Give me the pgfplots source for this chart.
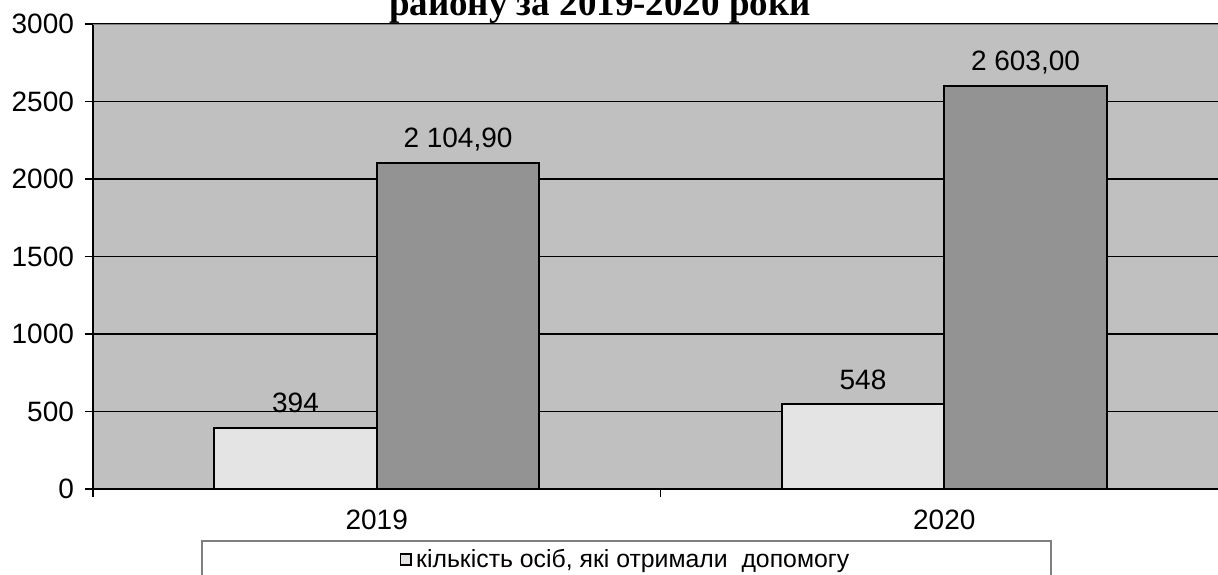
\documentclass[border=0pt]{standalone}
\usepackage{fontspec}
\setmainfont{Liberation Sans}
\newfontfamily\titlefont{Liberation Serif}
\usepackage{pgfplots}
\pgfplotsset{compat=1.18}

\definecolor{plotbg}{HTML}{C0C0C0}
\definecolor{lightbar}{HTML}{E4E4E4}
\definecolor{darkbar}{HTML}{939393}
\definecolor{framegray}{HTML}{7F7F7F}

% bars sit at category centre -/+ half a bar width (0.5 and 1.5 are the centres)
\begin{document}
\begin{tikzpicture}
\begin{axis}[
  at={(46.5pt,42.5pt)}, anchor=south west,
  scale only axis, width=567.5pt, height=232.5pt,
  xmin=0, xmax=2, ymin=0, ymax=3000,
  axis background/.style={fill=plotbg},
  axis x line*=bottom, axis y line*=left,
  axis line style={black, line width=1pt, -},
  xtick={0,1,2}, xticklabels={},
  extra x ticks={0.5,1.5}, extra x tick labels={2019,2020},
  extra x tick style={major tick length=0pt,
    xticklabel style={yshift=-7pt}},
  ytick={0,500,...,3000},
  ymajorgrids, grid style={black, line width=0.7pt},
  tick align=outside, major tick length=4pt,
  tick style={black, line width=0.7pt},
  ticklabel style={font=\fontsize{14}{16}\selectfont},
  yticklabel style={xshift=-2pt},
  /pgf/number format/assume math mode=true,
  /pgf/number format/1000 sep={},
  title={району за 2019-2020 роки},
  title style={font=\titlefont\bfseries\fontsize{18.5}{20}\selectfont,
    at={(0.4467,1)}, anchor=base, yshift=-1.5pt},
  legend style={at={(0.47,-0.1097)}, anchor=north, draw=framegray,
    line width=1pt, fill=white, inner xsep=99pt, inner ysep=2pt,
    font=\fontsize{12.4}{14}\selectfont},
  legend image code/.code={\draw[fill=lightbar, draw=black, line width=0.9pt]
    (0pt,-2.7pt) rectangle (5.4pt,2.7pt);},
  every node near coord/.append style={font=\fontsize{14}{16}\selectfont,
    text depth=0pt, inner sep=0pt, yshift=7pt},
]
\addplot[ybar, bar width=0.2863, bar shift=0, fill=lightbar,
  draw=black, line width=1pt, point meta=explicit symbolic, nodes near coords]
  coordinates {(0.3568,394) [394] (1.3568,548) [548]};
\addlegendentry{кількість осіб, які отримали\ \ допомогу\rule[-14pt]{0pt}{1pt}}
\addplot[ybar, bar width=0.2863, bar shift=0, fill=darkbar,
  draw=black, line width=1pt, point meta=explicit symbolic, nodes near coords,
  forget plot]
  coordinates {(0.6432,2104.9) [2\ 104,90] (1.6432,2603) [2\ 603,00]};
\draw[framegray, line width=1pt] (rel axis cs:0,1) -- (rel axis cs:1,1);
\end{axis}
\pgfresetboundingbox
\path (0pt,0pt) rectangle (609pt,287pt);
\end{tikzpicture}
\end{document}
